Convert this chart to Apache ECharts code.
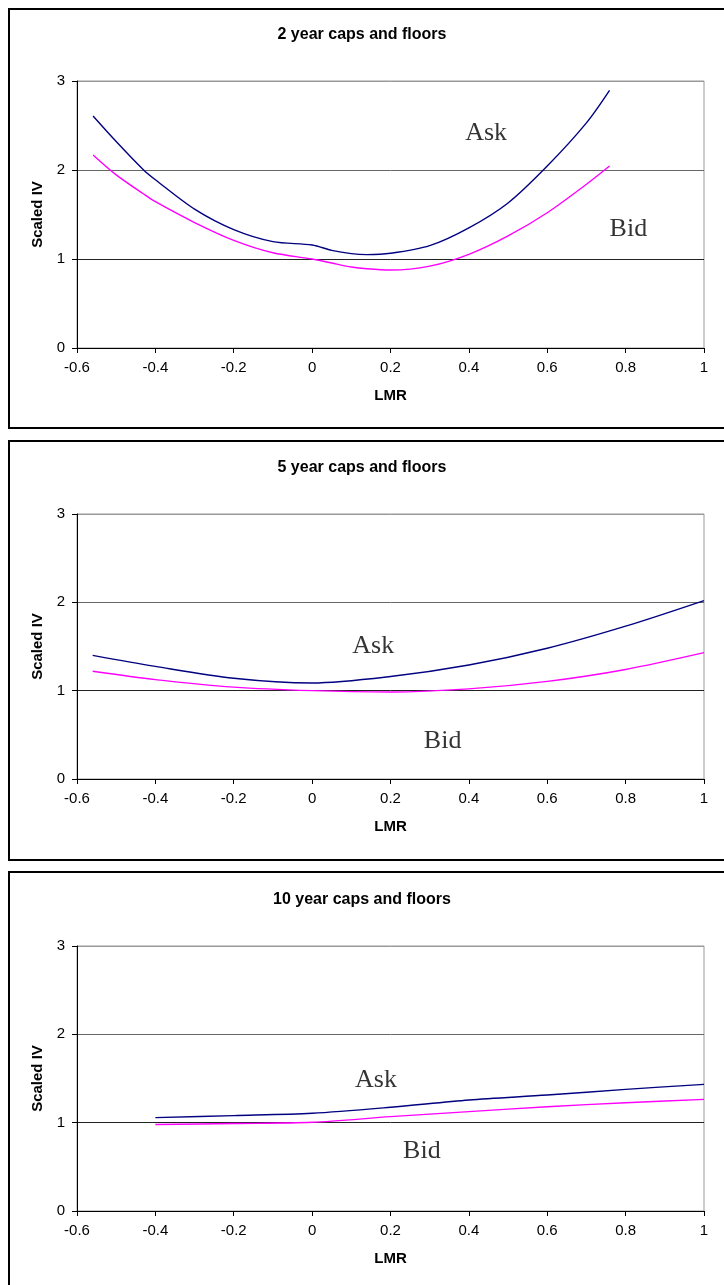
<!DOCTYPE html>
<html>
<head>
<meta charset="utf-8">
<script src="https://cdn.jsdelivr.net/npm/echarts@6/dist/echarts.min.js"></script>
<style>
html, body { margin: 0; padding: 0; background: #fff; }
#chart { width: 724px; height: 1285px; }
</style>
</head>
<body>
<div id="chart"></div>
<script>
var titles = ['2 year caps and floors', '5 year caps and floors', '10 year caps and floors'];

// 2 year
var lmr2 = [-0.559, -0.5, -0.43, -0.4, -0.3, -0.2, -0.1, 0, 0.05, 0.1, 0.14, 0.2, 0.3, 0.4, 0.5, 0.6, 0.7, 0.759];
var ask2 = [2.607, 2.32, 2.0, 1.89, 1.56, 1.33, 1.195, 1.157, 1.097, 1.06, 1.049, 1.064, 1.15, 1.35, 1.63, 2.045, 2.53, 2.895];
var bid2 = [2.169, 1.945, 1.73, 1.644, 1.41, 1.21, 1.07, 1.0, 0.955, 0.91, 0.89, 0.876, 0.92, 1.053, 1.26, 1.52, 1.84, 2.045];

// 5 year
var lmr5 = [-0.56, -0.4, -0.2, 0, 0.2, 0.4, 0.6, 0.8, 1];
var ask5 = [1.40, 1.275, 1.14, 1.087, 1.16, 1.29, 1.48, 1.73, 2.02];
var bid5 = [1.22, 1.125, 1.04, 1.0, 0.985, 1.02, 1.105, 1.24, 1.43];

// 10 year
var lmr10 = [-0.4, -0.2, 0, 0.2, 0.4, 0.6, 0.8, 1];
var ask10 = [1.057, 1.08, 1.106, 1.174, 1.257, 1.313, 1.377, 1.434];
var bid10 = [0.98, 0.99, 1.004, 1.068, 1.125, 1.18, 1.226, 1.264];

// where the Ask / Bid words sit, in data units
var askLabelPos = [[0.444, 2.41], [0.156, 1.50], [0.163, 1.483]];
var bidLabelPos = [[0.807, 1.333], [0.333, 0.426], [0.28, 0.679]];

var panels = [
    [lmr2, ask2, bid2],
    [lmr5, ask5, bid5],
    [lmr10, ask10, bid10]
];

var gridTops = [81, 514, 946];
var gridHeights = [267, 265, 265];
var titleTops = [27, 460, 892];
var boxTops = [9, 441, 872];
var boxBottoms = [428, 860, 1300];

var sans = 'Liberation Sans, Arial, sans-serif';
var serif = 'Liberation Serif, Times New Roman, serif';

function zip(xs, ys) {
    return xs.map(function (x, i) { return [x, ys[i]]; });
}

var grid = [], xAxis = [], yAxis = [], title = [], series = [], graphic = [];

panels.forEach(function (p, i) {
    title.push({
        text: titles[i],
        left: 'center',
        top: titleTops[i],
        padding: 0,
        textStyle: { fontFamily: sans, fontSize: 16, fontWeight: 'bold', color: '#000' }
    });
    grid.push({
        left: 77, width: 627, top: gridTops[i], height: gridHeights[i],
        show: true, borderColor: '#999', borderWidth: 1
    });
    xAxis.push({
        type: 'value', gridIndex: i, min: -0.6, max: 1, interval: 0.2,
        name: 'LMR', nameLocation: 'middle', nameGap: 40,
        nameTextStyle: { fontFamily: sans, fontSize: 15, fontWeight: 'bold', color: '#000' },
        axisLine: { show: true, onZero: false, lineStyle: { color: '#000', width: 1 } },
        axisTick: { show: true, inside: false, length: 5, lineStyle: { color: '#000' } },
        axisLabel: { margin: 12, fontFamily: sans, fontSize: 15, color: '#000' },
        splitLine: { show: false }
    });
    yAxis.push({
        type: 'value', gridIndex: i, min: 0, max: 3, interval: 1,
        name: 'Scaled IV', nameLocation: 'middle', nameGap: 31,
        nameTextStyle: { fontFamily: sans, fontSize: 15, fontWeight: 'bold', color: '#000' },
        axisLine: { show: true, onZero: false, lineStyle: { color: '#000', width: 1 } },
        axisTick: { show: true, inside: false, length: 5, lineStyle: { color: '#000' } },
        axisLabel: { margin: 12, fontFamily: sans, fontSize: 15, color: '#000' },
        splitLine: { show: true, lineStyle: { color: ['#000', '#222', '#666', '#999'], width: 1 } }
    });
    series.push({
        name: 'Ask', type: 'line', xAxisIndex: i, yAxisIndex: i,
        data: zip(p[0], p[1]), showSymbol: false, smooth: 0.3,
        lineStyle: { color: '#000080', width: 1.4 }, silent: true, z: 3
    });
    series.push({
        name: 'Bid', type: 'line', xAxisIndex: i, yAxisIndex: i,
        data: zip(p[0], p[2]), showSymbol: false, smooth: 0.3,
        lineStyle: { color: '#ff00ff', width: 1.4 }, silent: true, z: 3
    });
    series.push({
        type: 'scatter', xAxisIndex: i, yAxisIndex: i, symbolSize: 0, silent: true,
        data: [
            { value: askLabelPos[i], name: 'Ask' },
            { value: bidLabelPos[i], name: 'Bid' }
        ],
        label: {
            show: true, position: 'inside', formatter: '{b}',
            fontFamily: serif, fontSize: 26, color: '#000', textBorderWidth: 0
        }
    });
    graphic.push({
        type: 'rect', silent: true,
        shape: { x: 9, y: boxTops[i], width: 740, height: boxBottoms[i] - boxTops[i] },
        style: { fill: 'none', stroke: '#000', lineWidth: 2 }
    });
});

var myChart = echarts.init(document.getElementById('chart'));
myChart.setOption({
    backgroundColor: '#fff',
    animation: false,
    title: title,
    grid: grid,
    xAxis: xAxis,
    yAxis: yAxis,
    series: series,
    graphic: graphic
});
</script>
</body>
</html>
